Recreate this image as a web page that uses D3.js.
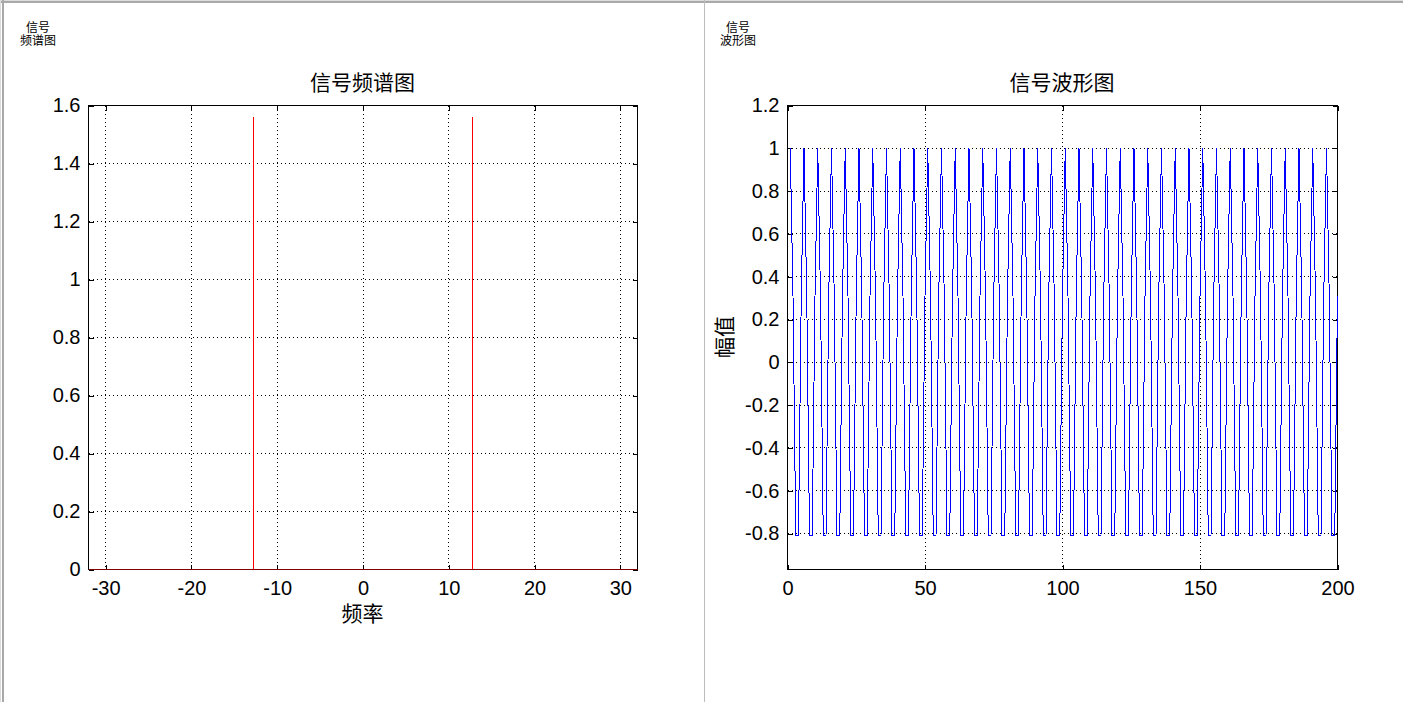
<!DOCTYPE html>
<html><head><meta charset="utf-8">
<script src="https://cdn.jsdelivr.net/npm/d3@7"></script>
<style>
html,body{margin:0;padding:0;background:#fff;overflow:hidden}
body{position:relative;width:1403px;height:702px}
svg{display:block;position:absolute;left:0;top:0}
.tick text{font-family:"Liberation Sans",Arial,sans-serif;font-size:20px;fill:#000}
.cjk{font-family:"Noto Sans CJK SC",sans-serif;fill:#000}
.small{position:absolute;width:60px;text-align:center;font-family:"Liberation Sans","Noto Sans CJK SC",sans-serif;
  font-size:12px;line-height:13.5px;color:#000;white-space:nowrap}
</style></head><body>
<script>
// ---- spectrum data (frequency vs magnitude) ----
const specFreq = [-32, -12.82, -12.8, -12.78, 12.78, 12.8, 12.82, 32];
const specMag  = [0, 0, 1.56, 0, 0, 1.56, 0, 0];
const specXTicks = [-30, -20, -10, 0, 10, 20, 30];
const specYTicks = [0, 0.2, 0.4, 0.6, 0.8, 1, 1.2, 1.4, 1.6];

// ---- waveform data (sample index 1..200, amplitude) ----
const waveValues = [
  1,0.309,-0.809,-0.809,0.309, 1,0.309,-0.809,-0.809,0.309, 1,0.309,-0.809,-0.809,0.309, 1,0.309,-0.809,-0.809,0.309,
  1,0.309,-0.809,-0.809,0.309, 1,0.309,-0.809,-0.809,0.309, 1,0.309,-0.809,-0.809,0.309, 1,0.309,-0.809,-0.809,0.309,
  1,0.309,-0.809,-0.809,0.309, 1,0.309,-0.809,-0.809,0.309, 1,0.309,-0.809,-0.809,0.309, 1,0.309,-0.809,-0.809,0.309,
  1,0.309,-0.809,-0.809,0.309, 1,0.309,-0.809,-0.809,0.309, 1,0.309,-0.809,-0.809,0.309, 1,0.309,-0.809,-0.809,0.309,
  1,0.309,-0.809,-0.809,0.309, 1,0.309,-0.809,-0.809,0.309, 1,0.309,-0.809,-0.809,0.309, 1,0.309,-0.809,-0.809,0.309,
  1,0.309,-0.809,-0.809,0.309, 1,0.309,-0.809,-0.809,0.309, 1,0.309,-0.809,-0.809,0.309, 1,0.309,-0.809,-0.809,0.309,
  1,0.309,-0.809,-0.809,0.309, 1,0.309,-0.809,-0.809,0.309, 1,0.309,-0.809,-0.809,0.309, 1,0.309,-0.809,-0.809,0.309,
  1,0.309,-0.809,-0.809,0.309, 1,0.309,-0.809,-0.809,0.309, 1,0.309,-0.809,-0.809,0.309, 1,0.309,-0.809,-0.809,0.309,
  1,0.309,-0.809,-0.809,0.309, 1,0.309,-0.809,-0.809,0.309, 1,0.309,-0.809,-0.809,0.309, 1,0.309,-0.809,-0.809,0.309,
  1,0.309,-0.809,-0.809,0.309, 1,0.309,-0.809,-0.809,0.309, 1,0.309,-0.809,-0.809,0.309, 1,0.309,-0.809,-0.809,0.309
];
const waveXTicks = [0, 50, 100, 150, 200];
const waveYTicks = [-0.8, -0.6, -0.4, -0.2, 0, 0.2, 0.4, 0.6, 0.8, 1, 1.2];

const W = 1403, H = 702;
const svg = d3.select("body").append("svg").attr("width", W).attr("height", H);

// window frames
const frame = svg.append("g").attr("shape-rendering", "crispEdges");
frame.append("line").attr("x1", 0).attr("x2", W).attr("y1", 0.5).attr("y2", 0.5).attr("stroke", "#dcdcdc");
frame.append("line").attr("x1", 0).attr("x2", W).attr("y1", 2).attr("y2", 2).attr("stroke", "#a9a9a9").attr("stroke-width", 2);
frame.append("line").attr("x1", 0.5).attr("x2", 0.5).attr("y1", 0).attr("y2", H).attr("stroke", "#dcdcdc");
frame.append("line").attr("x1", 3).attr("x2", 3).attr("y1", 0).attr("y2", H).attr("stroke", "#a9a9a9").attr("stroke-width", 2);
frame.append("line").attr("x1", 704.5).attr("x2", 704.5).attr("y1", 0).attr("y2", H).attr("stroke", "#bdbdbd");

function panel(o) {
  const g = svg.append("g");
  const x = d3.scaleLinear().domain(o.xDomain).range([o.x0, o.x1]);
  const y = d3.scaleLinear().domain(o.yDomain).range([o.y1, o.y0]);
  const fmt = d => String(d);

  // small figure label (one two-line text block)
  d3.select("body").append("div").attr("class", "small")
    .style("left", (o.smallX - 30) + "px").style("top", "21.5px")
    .html(o.small.join("<br>"));

  // title
  g.append("text").attr("class", "cjk").attr("x", (o.x0 + o.x1) / 2).attr("y", 90)
    .attr("text-anchor", "middle").attr("font-size", 21).text(o.title);

  const inner = g.append("g").attr("transform", "translate(0.5,0.5)");

  // grid
  const grid = inner.append("g").attr("stroke", "#000").attr("stroke-dasharray", "1,3")
    .attr("shape-rendering", "crispEdges");
  o.xTicks.filter(d => d > o.xDomain[0] && d < o.xDomain[1]).forEach(d => {
    grid.append("line").attr("x1", Math.round(x(d))).attr("x2", Math.round(x(d)))
      .attr("y1", o.y0).attr("y2", o.y1);
  });
  o.yTicks.filter(d => d > o.yDomain[0] && d < o.yDomain[1]).forEach(d => {
    grid.append("line").attr("y1", Math.round(y(d))).attr("y2", Math.round(y(d)))
      .attr("x1", o.x0).attr("x2", o.x1);
  });

  // box
  inner.append("rect").attr("x", o.x0).attr("y", o.y0).attr("width", o.x1 - o.x0).attr("height", o.y1 - o.y0)
    .attr("fill", "none").attr("stroke", "#000").attr("shape-rendering", "crispEdges");

  // axes
  const style = sel => { sel.select(".domain").remove(); sel.selectAll(".tick line").attr("stroke", "#000").attr("shape-rendering", "crispEdges"); };
  inner.append("g").attr("transform", `translate(0,${o.y1})`)
    .call(d3.axisBottom(x).tickValues(o.xTicks).tickSize(-5).tickPadding(11).tickFormat(fmt)).call(style);
  inner.append("g").attr("transform", `translate(0,${o.y0})`)
    .call(d3.axisTop(x).tickValues(o.xTicks).tickSize(-5).tickFormat("")).call(style);
  inner.append("g").attr("transform", `translate(${o.x0},0)`)
    .call(d3.axisLeft(y).tickValues(o.yTicks).tickSize(-5).tickPadding(8).tickFormat(fmt)).call(style);
  inner.append("g").attr("transform", `translate(${o.x1},0)`)
    .call(d3.axisRight(y).tickValues(o.yTicks).tickSize(-5).tickFormat("")).call(style);
  inner.selectAll(".tick text").attr("font-family", null).attr("font-size", null);

  // clip + data
  const cid = "clip" + o.id;
  svg.append("clipPath").attr("id", cid).append("rect")
    .attr("x", o.x0).attr("y", o.y0 - 1).attr("width", o.x1 - o.x0 + 1).attr("height", o.y1 - o.y0 + 1);
  const line = d3.line().x(d => x(d[0])).y(d => y(d[1]));
  inner.append("path").datum(o.points).attr("clip-path", `url(#${cid})`)
    .attr("d", line).attr("fill", "none").attr("stroke", o.color).attr("stroke-width", 1)
    .attr("shape-rendering", "crispEdges");

  // axis labels
  if (o.xlabel) g.append("text").attr("class", "cjk").attr("x", (o.x0 + o.x1) / 2).attr("y", 621)
    .attr("text-anchor", "middle").attr("font-size", 21).text(o.xlabel);
  if (o.ylabel) g.append("text").attr("class", "cjk")
    .attr("transform", `translate(${o.ylabelX},${(o.y0 + o.y1) / 2}) rotate(-90)`)
    .attr("text-anchor", "middle").attr("dominant-baseline", "central").attr("font-size", 21).text(o.ylabel);
}

panel({
  id: "spec", x0: 88, x1: 637, y0: 105, y1: 569,
  xDomain: [-32, 32], yDomain: [0, 1.6], xTicks: specXTicks, yTicks: specYTicks,
  points: specFreq.map((f, i) => [f, specMag[i]]), color: "#ff0000",
  title: "信号频谱图", small: ["信号", "频谱图"], smallX: 38, xlabel: "频率"
});

panel({
  id: "wave", x0: 787, x1: 1337, y0: 105, y1: 569,
  xDomain: [0, 200], yDomain: [-0.968, 1.2], xTicks: waveXTicks, yTicks: waveYTicks,
  points: waveValues.map((v, i) => [i + 1, v]), color: "#0000ff",
  title: "信号波形图", small: ["信号", "波形图"], smallX: 738, ylabel: "幅值", ylabelX: 723
});
</script>
</body></html>
